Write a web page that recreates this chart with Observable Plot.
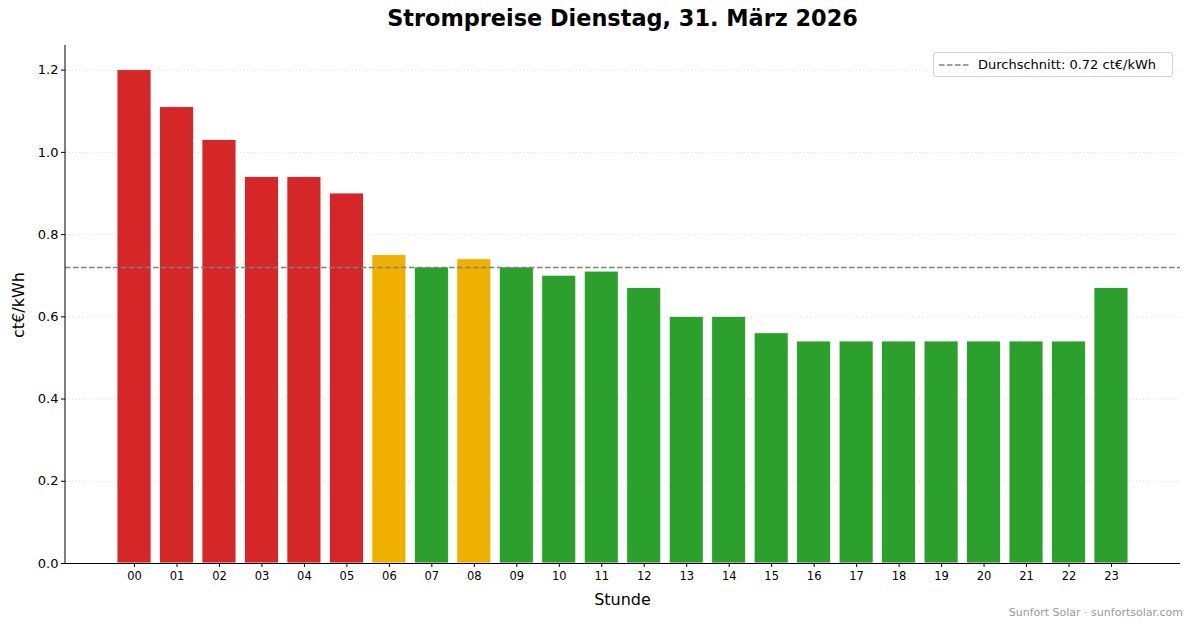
<!DOCTYPE html>
<html>
<head>
<meta charset="utf-8">
<script src="https://cdn.jsdelivr.net/npm/d3@7"></script>
<script src="https://cdn.jsdelivr.net/npm/@observablehq/plot@0.6"></script>
<style>
  html, body { margin: 0; padding: 0; background: #fff; }
  #wrap { position: relative; width: 1193px; height: 628px; font-family: "DejaVu Sans", sans-serif; overflow: hidden; }
  #wrap > #chart svg { position: absolute; left: 0; top: 0; }
  .abs { position: absolute; white-space: nowrap; }
  #title { left: 65px; width: 1115px; top: 5px; text-align: center; font-size: 22.4px; font-weight: bold; color: #000; }
  #xlabel { left: 65px; width: 1115px; top: 590px; text-align: center; font-size: 16px; color: #000; }
  #ylabel { left: 18px; top: 305px; font-size: 16px; transform: translate(-50%, -50%) rotate(-90deg); color: #000; }
  #footer { right: 10px; top: 606px; font-size: 11px; color: #999; }
  #legend { left: 933px; top: 52px; width: 238px; height: 23px; border: 1px solid #d0d0d0; border-radius: 3px; background: rgba(255,255,255,0.85); font-size: 13px; color: #000; }
  #legend svg { position: absolute; left: 5px; top: 6px; }
  #legend span { position: absolute; left: 44px; top: 4px; }
  .yax text { font-size: 13px; }
  .xax text { font-size: 11.5px; }
</style>
</head>
<body>
<div id="wrap">
  <div id="chart"></div>
  <div class="abs" id="title">Strompreise Dienstag, 31. März 2026</div>
  <div class="abs" id="xlabel">Stunde</div>
  <div class="abs" id="ylabel">ct€/kWh</div>
  <div class="abs" id="footer">Sunfort Solar · sunfortsolar.com</div>
  <div class="abs" id="legend"><svg width="32" height="12"><line x1="0" y1="6" x2="30" y2="6" stroke="#808080" stroke-width="1.5" stroke-dasharray="5.5,2.5"/></svg><span id="legtext"></span></div>
</div>
<script>
const hours = ["00","01","02","03","04","05","06","07","08","09","10","11","12","13","14","15","16","17","18","19","20","21","22","23"];
const prices = [1.20,1.11,1.03,0.94,0.94,0.90,0.75,0.72,0.74,0.72,0.70,0.71,0.67,0.60,0.60,0.56,0.54,0.54,0.54,0.54,0.54,0.54,0.54,0.67];
const levels = ["hoch","hoch","hoch","hoch","hoch","hoch","mittel","niedrig","mittel","niedrig","niedrig","niedrig","niedrig","niedrig","niedrig","niedrig","niedrig","niedrig","niedrig","niedrig","niedrig","niedrig","niedrig","niedrig"];
const levelNames = ["hoch","mittel","niedrig"];
const levelColors = ["#d62728","#f0b000","#2ca02c"];
const yTicks = [0,0.2,0.4,0.6,0.8,1.0,1.2];
const average = 0.72;

const data = hours.map((h, i) => ({hour: h, price: prices[i], level: levels[i]}));
document.getElementById("legtext").textContent = `Durchschnitt: ${average.toFixed(2)} ct€/kWh`;

function leftSpine(index, scales, values, dims) {
  const svg = d3.create("svg:g");
  svg.append("line")
    .attr("x1", dims.marginLeft).attr("x2", dims.marginLeft)
    .attr("y1", dims.marginTop).attr("y2", dims.height - dims.marginBottom)
    .attr("stroke", "#000").attr("stroke-width", 1);
  return svg.node();
}

const plot = Plot.plot({
  width: 1193,
  height: 628,
  marginLeft: 65,
  marginRight: 13,
  marginTop: 45,
  marginBottom: 65,
  style: {fontFamily: "DejaVu Sans, sans-serif", background: "transparent", color: "#000"},
  x: {type: "band", domain: hours, paddingInner: 0.2, paddingOuter: 1.225, align: 0.5, round: false},
  y: {domain: [0, 1.26]},
  color: {domain: levelNames, range: levelColors},
  marks: [
    Plot.ruleY(yTicks.filter(d => d > 0), {stroke: "#cfcfcf", strokeWidth: 0.8, strokeDasharray: "1,2.5"}),
    Plot.barY(data, {x: "hour", y: "price", fill: "level", stroke: "#fff", strokeWidth: 0.8}),
    Plot.ruleY([average], {stroke: "#808080", strokeWidth: 1.5, strokeDasharray: "5.5,2.5"}),
    Plot.ruleY([0], {stroke: "#000", strokeWidth: 1}),
    leftSpine,
    Plot.axisY({ticks: yTicks, tickFormat: d3.format(".1f"), tickSize: 4, tickPadding: 3, fontSize: 13, label: null, stroke: "#000", strokeOpacity: 1, className: "yax"}),
    Plot.axisX({tickSize: 4, tickPadding: 4, fontSize: 11.5, label: null, stroke: "#000", strokeOpacity: 1, className: "xax"})
  ]
});
document.getElementById("chart").appendChild(plot);
</script>
</body>
</html>
